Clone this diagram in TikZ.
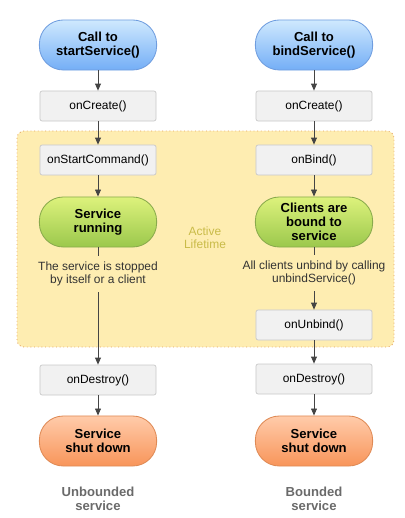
\documentclass[tikz,border=0pt]{standalone}
\usepackage{fontspec}
\setmainfont{Liberation Sans}
\usepackage{tikz}
\usepackage{xcolor}
\usetikzlibrary{positioning,arrows.meta,backgrounds}
\definecolor{bluetop}{HTML}{CFE9FE}
\definecolor{bluebot}{HTML}{74AEF6}
\definecolor{blueline}{HTML}{6F9DDF}
\definecolor{greentop}{HTML}{DDF27C}
\definecolor{greenbot}{HTML}{9BC84C}
\definecolor{greenline}{HTML}{89AA4C}
\definecolor{orangetop}{HTML}{FFCBAA}
\definecolor{orangebot}{HTML}{F8955A}
\definecolor{orangeline}{HTML}{DF8A55}
\definecolor{boxfill}{HTML}{F1F1F1}
\definecolor{boxline}{HTML}{C8C8C8}
\definecolor{lifefill}{HTML}{FEEDB1}
\definecolor{lifeline}{HTML}{E3A15F}
\definecolor{lifetext}{HTML}{C9BB48}
\definecolor{arrowgrey}{HTML}{444444}
\definecolor{labelgrey}{HTML}{6A6A6A}

\begin{document}
\begin{tikzpicture}[x=0.025cm, y=-0.025cm,
  font=\fontsize{8.5}{9.3}\selectfont,
  callbox/.style={draw=#1line, top color=#1top, bottom color=#1bot,
    rounded corners=17pt, minimum width=2.93cm, minimum height=1.25cm,
    align=center, font=\fontsize{9.3}{10}\selectfont\bfseries, line width=0.6pt},
  methodbox/.style={draw=boxline, fill=boxfill, rounded corners=1.5pt,
    minimum width=2.9cm, minimum height=0.75cm, line width=0.5pt},
  notetext/.style={align=center, text=black!80, inner xsep=2pt, inner ysep=4pt},
  flow/.style={draw=arrowgrey, line width=0.6pt},
  arrowflow/.style={flow, -{Triangle[length=5pt,width=4.2pt]}}]
  \useasboundingbox (0,0) rectangle (405,518);
  \draw[fill=lifefill, draw=lifeline, dotted, line width=0.6pt, rounded corners=5pt]
    (17,131) rectangle (394,347);
  \node[text=lifetext, align=center] (life) at (205,238) {Active\\Lifetime};

  \node[callbox=blue] (startcall) at (98,45) {Call to\\startService()};
  \node[methodbox] (createL) at (98,106) {onCreate()};
  \node[methodbox] (startcmd) at (98,160) {onStartCommand()};
  \node[callbox=green] (running) at (98,222) {Service\\running};
  \node[notetext] (stopnote) at (98,274) {The service is stopped\\by itself or a client};
  \node[methodbox] (destroyL) at (98,380) {onDestroy()};
  \node[callbox=orange] (shutL) at (98,441) {Service\\shut down};
  \node[text=labelgrey, align=center, font=\fontsize{9.3}{10}\selectfont\bfseries] (unbounded) at (98,499) {Unbounded\\service};

  \node[callbox=blue] (bindcall) at (314,45) {Call to\\bindService()};
  \node[methodbox] (createR) at (314,106) {onCreate()};
  \node[methodbox] (onbind) at (314,160) {onBind()};
  \node[callbox=green] (bound) at (314,222) {Clients are\\bound to\\service};
  \node[notetext] (unbindnote) at (314,273) {All clients unbind by calling\\unbindService()};
  \node[methodbox] (onunbind) at (314,325) {onUnbind()};
  \node[methodbox] (destroyR) at (314,379) {onDestroy()};
  \node[callbox=orange] (shutR) at (314,441) {Service\\shut down};
  \node[text=labelgrey, align=center, font=\fontsize{9.3}{10}\selectfont\bfseries] (bounded) at (314,499) {Bounded\\service};

  \draw[arrowflow] (startcall) -- (createL);
  \draw[arrowflow] (createL) -- (startcmd);
  \draw[arrowflow] (startcmd) -- (running);
  \draw[flow] (running) -- (stopnote);
  \draw[arrowflow] (stopnote) -- (destroyL);
  \draw[arrowflow] (destroyL) -- (shutL);

  \draw[arrowflow] (bindcall) -- (createR);
  \draw[arrowflow] (createR) -- (onbind);
  \draw[arrowflow] (onbind) -- (bound);
  \draw[flow] (bound) -- (unbindnote);
  \draw[arrowflow] (unbindnote) -- (onunbind);
  \draw[arrowflow] (onunbind) -- (destroyR);
  \draw[arrowflow] (destroyR) -- (shutR);
\end{tikzpicture}
\end{document}
